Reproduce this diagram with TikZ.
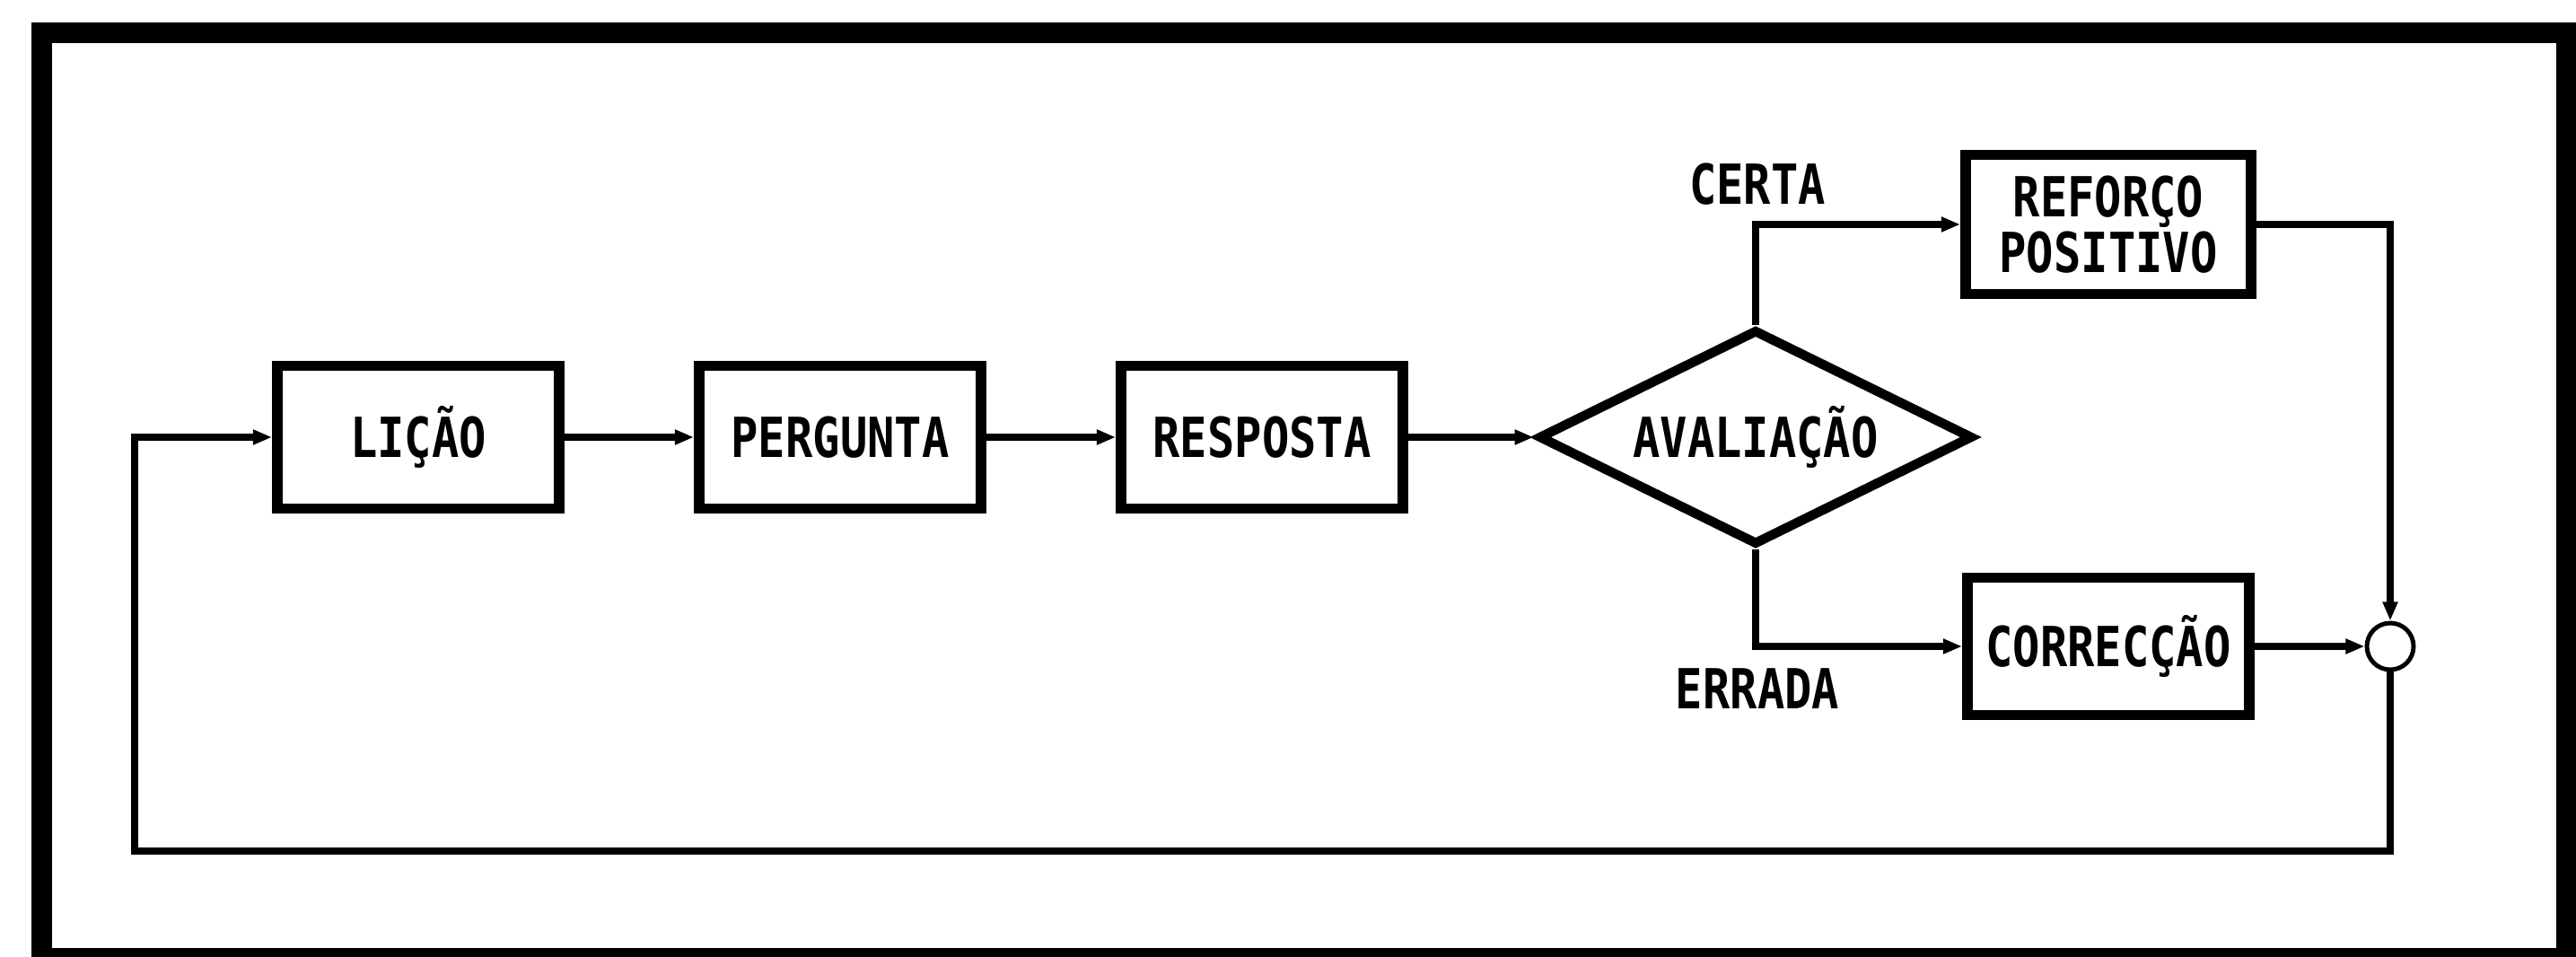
\documentclass[tikz,border=0pt]{standalone}
\usepackage{fontspec}
\newfontfamily\typefont[FakeStretch=0.82]{DejaVu Sans Mono}
\usetikzlibrary{arrows.meta,positioning,shapes.geometric}

\begin{document}
\begin{tikzpicture}[->,>={Triangle[length=6pt,width=4.5pt]},line width=2.4pt,
                    node distance=4.7cm,font=\typefont\bfseries\fontsize{17.5}{17.6}\selectfont]
  \tikzstyle{block}=[draw,rectangle,line width=3.4pt,minimum width=3.14cm,
                     minimum height=1.59cm,inner sep=0pt,align=center]
  \tikzstyle{decision}=[draw,diamond,aspect=2,line width=3pt,minimum width=4.84cm,
                        minimum height=2.40cm,inner sep=0pt]
  \tikzstyle{junction}=[draw,circle,line width=1.4pt,minimum size=0.52cm,inner sep=0pt]
  \tikzstyle{answer}=[inner sep=0pt]

  \useasboundingbox (0,0) rectangle (28.7,10.65);
  \clip (0,0) rectangle (28.7,10.65);
  % frame
  \draw[-,line width=0.23cm] (0.465,-0.025) rectangle (28.595,10.285);

  \node[block]    (lic) at (4.66,5.78)  {LIÇÃO};
  \node[block]    (per) [right of=lic]  {PERGUNTA};
  \node[block]    (res) [right of=per]  {RESPOSTA};
  \node[decision] (ava) [right of=res, xshift=0.8cm] {AVALIAÇÃO};
  \node[block, minimum width=3.18cm, minimum height=1.55cm]
                  (ref) [right of=ava, xshift=-0.77cm, yshift=2.37cm] {REFORÇO\\POSITIVO};
  \node[block, minimum height=1.53cm]
                  (cor) [right of=ava, xshift=-0.77cm, yshift=-2.33cm] {CORRECÇÃO};
  \node[junction] (sum) [right of=cor, xshift=-1.56cm] {};

  \node[answer] (certa)  at (19.58,8.60) {CERTA};
  \node[answer] (errada) at (19.58,2.98) {ERRADA};
  \coordinate (back) at (1.50,1.17);

  \path (lic) edge (per)
        (per) edge (res)
        (res) edge (ava)
        (cor) edge (sum);
  \draw (ava.north) |- (ref);
  \draw (ava.south) |- (cor);
  \draw (ref) -| (sum);
  \draw (sum) |- (back) |- (lic);
\end{tikzpicture}
\end{document}
